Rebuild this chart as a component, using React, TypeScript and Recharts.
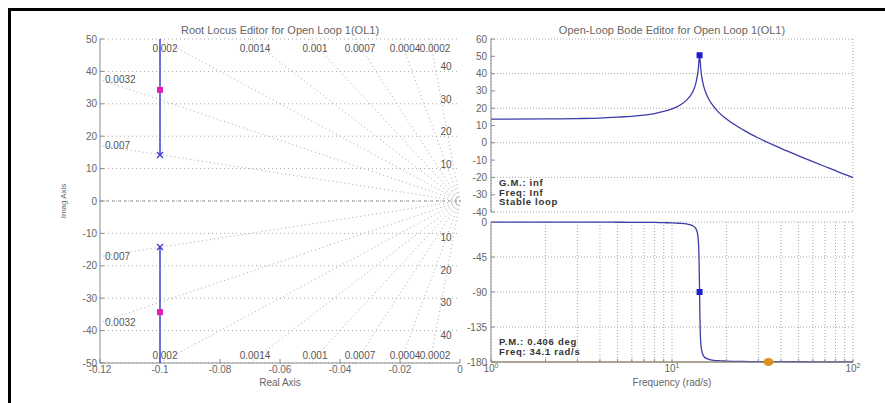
import React from 'react';
import {
  ComposedChart,
  Line,
  Scatter,
  XAxis,
  YAxis,
  CartesianGrid,
  ReferenceLine,
  ReferenceDot,
} from 'recharts';

// ---- Root locus data ----
const rlXDomain = [-0.12, 0];
const rlYDomain = [-50, 50];
const rlXTicks = [-0.12, -0.1, -0.08, -0.06, -0.04, -0.02, 0];
const rlYTicks = [-50, -40, -30, -20, -10, 0, 10, 20, 30, 40, 50];
const branchReal = -0.1;
const upperBranchImag = [14.2, 50];
const lowerBranchImag = [-14.2, -50];
const openLoopPolesImag = [14.2, -14.2];
const closedLoopPolesImag = [34.3, -34.3];
const dampingRatios = [0.007, 0.0032, 0.002, 0.0014, 0.001, 0.0007, 0.0004, 0.0002];
const dampingLabels = ['0.007', '0.0032', '0.002', '0.0014', '0.001', '0.0007', '0.0004', '0.0002'];
const naturalFreqs = [10, 20, 30, 40];

// ---- Bode data ----
const bodeFreq = [1, 2, 3, 4, 5, 6, 7, 8, 9, 10, 11, 12, 13, 13.5, 13.8, 14.0, 14.1, 14.2, 14.3, 14.4, 14.6, 15, 15.5, 16, 17, 18, 20, 25, 30, 40, 50, 60, 70, 80, 90, 100];
const bodeMag = [13.7, 13.8, 14.0, 14.3, 14.8, 15.3, 16.0, 16.9, 18.1, 19.6, 21.6, 24.5, 29.4, 33.9, 38.7, 43.7, 47.7, 50.6, 47.6, 43.5, 38.2, 32.3, 28.0, 25.0, 20.9, 17.9, 13.7, 7.2, 2.8, -3.2, -7.5, -10.9, -13.7, -16.1, -18.3, -20.1];
const bodePhase = [-0.1, -0.1, -0.2, -0.2, -0.3, -0.4, -0.5, -0.6, -0.9, -1.1, -1.6, -2.4, -4.6, -7.9, -13.8, -26.4, -44.8, -90, -134.8, -153.3, -165.8, -172.7, -175.4, -176.6, -177.8, -178.3, -178.8, -179.3, -179.5, -179.6, -179.7, -179.75, -179.8, -179.8, -179.8, -179.8];
const freqTicks = [1, 2, 3, 4, 5, 6, 7, 8, 9, 10, 20, 30, 40, 50, 60, 70, 80, 90, 100];
const magTicks = [-40, -30, -20, -10, 0, 10, 20, 30, 40, 50, 60];
const phaseTicks = [-180, -135, -90, -45, 0];
const resonanceFreq = 14.2;
const resonanceMag = 50.6;
const resonancePhase = -90;
const pmFreq = 34.1;
const pmPhase = -180;

const FONT = '"Liberation Sans", Arial, sans-serif';
const AXIS = '#8a8a8a';
const TXT = '#666';
const GRID = '#a8a8a8';

const bodeRows = bodeFreq.map((w, i) => ({ w, mag: bodeMag[i], phase: bodePhase[i] }));

// damping ratio rays from origin, clipped to the plot box
const dampRays = dampingRatios.flatMap((z, i) => {
  const k = Math.sqrt(1 - z * z) / z;
  const yLeft = -rlXDomain[0] * k;
  const onLeft = yLeft <= rlYDomain[1];
  const end = onLeft ? { x: rlXDomain[0], y: yLeft } : { x: -rlYDomain[1] / k, y: rlYDomain[1] };
  return [1, -1].map(sign => ({ key: `${i}-${sign}`, label: dampingLabels[i], onLeft, sign, x: end.x, y: end.y * sign }));
});

const hidden = () => <g />;

const XMark = (props: any) => {
  const { cx, cy } = props;
  const s = 3;
  return (
    <g stroke="#3a3ad0" strokeWidth={1.2}>
      <line x1={cx - s} y1={cy - s} x2={cx + s} y2={cy + s} />
      <line x1={cx - s} y1={cy + s} x2={cx + s} y2={cy - s} />
    </g>
  );
};

const squareMark = (color: string, size: number) => (props: any) => (
  <rect x={props.cx - size / 2} y={props.cy - size / 2} width={size} height={size} fill={color} />
);

const circleMark = (props: any) => <ellipse cx={props.cx} cy={props.cy} rx={5} ry={4} fill="#d9931d" />;

const FreqTick = (props: any) => {
  const { x, y, payload } = props;
  const e = Math.log10(payload.value);
  if (Math.abs(e - Math.round(e)) > 1e-6) return <g />;
  return (
    <text x={x} y={y} textAnchor="middle" fill={TXT} fontSize={10} fontFamily={FONT}>
      <tspan dy="0.71em">10</tspan>
      <tspan dy="-4" fontSize={7}>{Math.round(e)}</tspan>
    </text>
  );
};

const tickStyle = { fill: TXT, fontSize: 10, fontFamily: FONT };

const abs = (left: number, top: number, extra: React.CSSProperties = {}): React.CSSProperties => ({
  position: 'absolute',
  left,
  top,
  fontFamily: FONT,
  whiteSpace: 'nowrap',
  ...extra,
});

const RootLocus = () => (
  <ComposedChart width={470} height={403} margin={{ top: 39, right: 10, left: 0, bottom: 10 }}>
    <CartesianGrid vertical={false} stroke={GRID} strokeDasharray="1 3" />
    <XAxis dataKey="x" type="number" domain={rlXDomain} ticks={rlXTicks}
      height={30} stroke={AXIS} tickSize={-4} tickMargin={7} tick={tickStyle} />
    <XAxis xAxisId="top" orientation="top" type="number" domain={rlXDomain} ticks={rlXTicks}
      height={0} mirror stroke={AXIS} tickSize={4} tick={false} />
    <YAxis dataKey="y" type="number" domain={rlYDomain} ticks={rlYTicks}
      width={100} stroke={AXIS} tickSize={-4} tickMargin={7} tick={tickStyle} />
    <YAxis yAxisId="right" orientation="right" type="number" domain={rlYDomain} ticks={rlYTicks}
      width={0} mirror stroke={AXIS} tickSize={4} tick={false} />
    <ReferenceLine y={0} stroke="#9a9a9a" strokeDasharray="3 3" />
    {dampRays.map(r => (
      <ReferenceLine key={r.key} segment={[{ x: 0, y: 0 }, { x: r.x, y: r.y }]} stroke={GRID}
        strokeDasharray="1 3" ifOverflow="visible" />
    ))}
    {dampRays.map(r => (
      <ReferenceDot key={'l' + r.key} x={r.x} y={r.y} r={0} ifOverflow="visible"
        shape={(p: any) => (
          <text x={p.cx + 5} y={r.onLeft ? p.cy : p.cy + (r.sign > 0 ? 9 : -8)}
            textAnchor={r.onLeft ? 'start' : 'middle'} dominantBaseline="central"
            fill="#555" fontSize={10} fontFamily={FONT}>{r.label}</text>
        )} />
    ))}
    {naturalFreqs.flatMap(wn => [1, -1].map(sign => (
      <ReferenceDot key={`wn${wn}${sign}`} x={rlXDomain[1]} y={wn * sign} r={0} ifOverflow="visible"
        shape={(p: any) => (
          <text x={p.cx - 14} y={p.cy - 4.5 * sign} textAnchor="middle" dominantBaseline="central"
            fill="#555" fontSize={10} fontFamily={FONT}>{wn}</text>
        )} />
    )))}
    <Scatter data={upperBranchImag.map(y => ({ x: branchReal, y }))} line={{ stroke: '#4b4bdc', strokeWidth: 1.6 }}
      shape={hidden} isAnimationActive={false} />
    <Scatter data={lowerBranchImag.map(y => ({ x: branchReal, y }))} line={{ stroke: '#4b4bdc', strokeWidth: 1.6 }}
      shape={hidden} isAnimationActive={false} />
    <Scatter data={openLoopPolesImag.map(y => ({ x: branchReal, y }))} shape={XMark} isAnimationActive={false} />
    <Scatter data={closedLoopPolesImag.map(y => ({ x: branchReal, y }))} shape={squareMark('#e01fb8', 6)}
      isAnimationActive={false} />
  </ComposedChart>
);

const Magnitude = () => (
  <ComposedChart width={425} height={220} data={bodeRows} margin={{ top: 39, right: 32, left: 0, bottom: 8 }}>
    <CartesianGrid stroke={GRID} strokeDasharray="1 2" />
    <XAxis dataKey="w" type="number" scale="log" domain={[1, 100]} ticks={freqTicks}
      height={0} mirror stroke={AXIS} tickSize={3} tick={false} />
    <XAxis xAxisId="top" orientation="top" type="number" scale="log" domain={[1, 100]} ticks={freqTicks}
      height={0} mirror stroke={AXIS} tickSize={3} tick={false} />
    <YAxis type="number" domain={[-40, 60]} ticks={magTicks} width={31} stroke={AXIS}
      tickSize={-4} tickMargin={8} tick={tickStyle} />
    <YAxis yAxisId="right" orientation="right" type="number" domain={[-40, 60]} ticks={magTicks}
      width={0} mirror stroke={AXIS} tickSize={4} tick={false} />
    <Line dataKey="mag" type="monotone" stroke="#3c3ca8" strokeWidth={1.3} dot={false} isAnimationActive={false} />
    <Scatter data={[{ w: resonanceFreq, mag: resonanceMag }]} dataKey="mag" shape={squareMark('#1c1cd0', 6)}
      isAnimationActive={false} />
  </ComposedChart>
);

const Phase = () => (
  <ComposedChart width={425} height={188} data={bodeRows} margin={{ top: 7, right: 32, left: 0, bottom: 11 }}>
    <CartesianGrid stroke={GRID} strokeDasharray="1 2" />
    <XAxis dataKey="w" type="number" scale="log" domain={[1, 100]} ticks={freqTicks}
      height={30} stroke={AXIS} tickSize={-3} tickMargin={6} tick={<FreqTick />} interval={0} />
    <XAxis xAxisId="top" orientation="top" type="number" scale="log" domain={[1, 100]} ticks={freqTicks}
      height={0} mirror stroke={AXIS} tickSize={3} tick={false} />
    <YAxis type="number" domain={[-180, 0]} ticks={phaseTicks} width={31} stroke={AXIS}
      tickSize={-4} tickMargin={8} tick={tickStyle} />
    <YAxis yAxisId="right" orientation="right" type="number" domain={[-180, 0]} ticks={phaseTicks}
      width={0} mirror stroke={AXIS} tickSize={4} tick={false} />
    <ReferenceLine y={pmPhase} stroke="#c4b07c" strokeWidth={1.5} />
    <Line dataKey="phase" type="monotone" stroke="#3c3ca8" strokeWidth={1.3} dot={false} isAnimationActive={false} />
    <Scatter data={[{ w: resonanceFreq, phase: resonancePhase }]} dataKey="phase" shape={squareMark('#1c1cd0', 6)}
      isAnimationActive={false} />
    <Scatter data={[{ w: pmFreq, phase: pmPhase }]} dataKey="phase" shape={circleMark} isAnimationActive={false} />
  </ComposedChart>
);

export default function App() {
  const note: React.CSSProperties = {
    fontSize: 9.5, fontWeight: 'bold', color: '#333', lineHeight: '9.5px', letterSpacing: '0.7px',
  };
  return (
    <div style={{ position: 'absolute', left: 0, top: 0, width: 885, height: 403, background: '#fff', overflow: 'hidden' }}>
      <div style={{ position: 'absolute', left: 8, top: 8, width: 900, height: 420, borderTop: '3px solid #000', borderLeft: '3px solid #000' }} />
      <div style={abs(0, 0)}><RootLocus /></div>
      <div style={abs(460, 0)}><Magnitude /></div>
      <div style={abs(460, 215)}><Phase /></div>

      <div style={abs(100, 24, { width: 360, textAlign: 'center', fontSize: 11, color: TXT })}>
        Root Locus Editor for Open Loop 1(OL1)
      </div>
      <div style={abs(491, 24, { width: 362, textAlign: 'center', fontSize: 11, color: TXT })}>
        Open-Loop Bode Editor for Open Loop 1(OL1)
      </div>
      <div style={abs(100, 377, { width: 360, textAlign: 'center', fontSize: 10, color: TXT })}>Real Axis</div>
      <div style={abs(491, 377, { width: 362, textAlign: 'center', fontSize: 10, color: TXT })}>Frequency (rad/s)</div>
      <div style={abs(63, 201, { fontSize: 8, color: TXT, transform: 'translate(-50%, -50%) rotate(-90deg)' })}>Imag Axis</div>

      <div style={abs(499, 178, note)}>G.M.: inf<br />Freq: Inf<br />Stable loop</div>
      <div style={abs(499, 337, note)}>P.M.: 0.406 deg<br />Freq: 34.1 rad/s</div>
    </div>
  );
}
